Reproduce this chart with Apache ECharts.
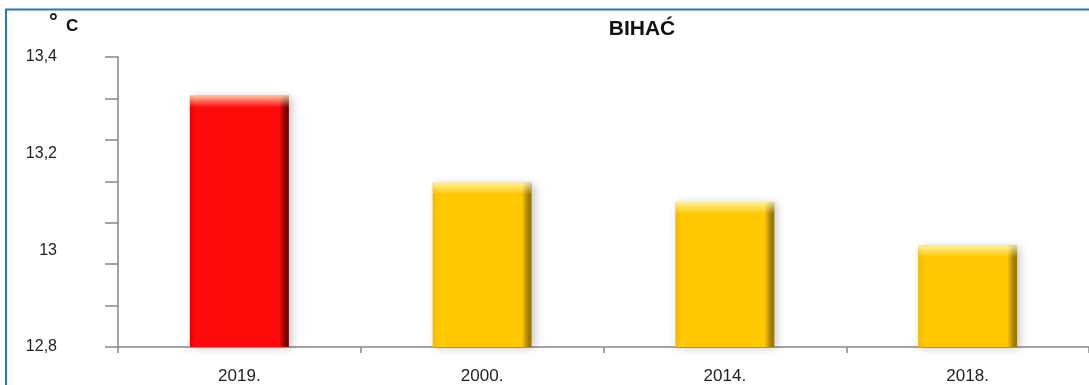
<!DOCTYPE html>
<html>
<head>
<meta charset="utf-8">
<script src="https://cdn.jsdelivr.net/npm/echarts@6/dist/echarts.min.js"></script>
<style>
html,body{margin:0;padding:0;background:#fff;}
#c{width:1089px;height:385px;}
</style>
</head>
<body>
<div id="c"></div>
<script>
// ---- data ----
var title = 'BIHAĆ';
var unitLabel = 'C';
var categories = ['2019.', '2000.', '2014.', '2018.'];
var temps = [13.32, 13.14, 13.10, 13.01];
var barKind = ['red', 'gold', 'gold', 'gold'];
var yMin = 12.8, yMax = 13.4, yStep = 0.2;

var palette = {
  red:  {l: '#E80000', m: '#FF0A0A', r: '#7A0000'},
  gold: {l: '#F2B800', m: '#FFC800', r: '#9C7A00'}
};
function hGrad(k) {
  var p = palette[k];
  return new echarts.graphic.LinearGradient(0, 0, 1, 0, [
    {offset: 0, color: p.l}, {offset: 0.06, color: p.m},
    {offset: 0.9, color: p.m}, {offset: 0.97, color: p.r}, {offset: 1, color: p.r}
  ]);
}
var pxPerUnit = 290 / (yMax - yMin);
function vGrad(v) {
  var h = (v - yMin) * pxPerUnit;
  var f = Math.min(0.5, 12 / h);
  return new echarts.graphic.LinearGradient(0, 0, 0, 1, [
    {offset: 0, color: 'rgba(255,255,200,0.75)'},
    {offset: f * 0.5, color: 'rgba(255,255,220,0.35)'},
    {offset: f, color: 'rgba(255,255,255,0)'},
    {offset: 1, color: 'rgba(255,255,255,0)'}
  ]);
}

var chart = echarts.init(document.getElementById('c'), null, {renderer: 'canvas'});
var font = "'Liberation Sans', Arial, sans-serif";
chart.setOption({
  animation: false,
  backgroundColor: '#fff',
  grid: {left: 118, top: 57, width: 976, bottom: 38},
  graphic: [
    {type: 'rect', shape: {x: 6, y: 9.5, width: 1200, height: 500},
     style: {fill: 'none', stroke: '#2E75B6', lineWidth: 2}, z: 100},
    {type: 'text', left: 49, top: 12, style: {text: '°', font: "bold 22px " + font, fill: '#111'}},
    {type: 'text', left: 66, top: 18, style: {text: unitLabel, font: "bold 17px " + font, fill: '#111'}}
  ],
  title: {
    text: title, left: 637, top: 14, textAlign: 'center',
    textStyle: {fontFamily: font, fontSize: 21, fontWeight: 'bold', color: '#111'}
  },
  xAxis: {
    type: 'category', data: categories,
    axisLine: {lineStyle: {color: '#868686', width: 1.5}},
    axisTick: {show: true, alignWithLabel: false, length: 6, lineStyle: {color: '#868686', width: 1.5}},
    axisLabel: {margin: 21, fontFamily: font, fontSize: 17, color: '#222'}
  },
  yAxis: [
    {
      type: 'value', min: yMin, max: yMax, interval: yStep,
      axisLine: {show: true, lineStyle: {color: '#868686', width: 1.5}},
      axisTick: {show: false},
      splitLine: {show: false},
      axisLabel: {
        margin: 61, fontFamily: font, fontSize: 16, color: '#222',
        formatter: function (v) { return String(+v.toFixed(1)).replace('.', ','); }
      }
    },
    {
      type: 'value', min: 0, max: 7, interval: 1, position: 'left',
      axisLine: {show: false},
      axisTick: {show: true, length: 13, lineStyle: {color: '#868686', width: 1.5}},
      axisLabel: {show: false},
      splitLine: {show: false}
    }
  ],
  series: [
    {
      type: 'bar', barWidth: 99, yAxisIndex: 0,
      data: temps.map(function (v, i) {
        return {value: v, itemStyle: {color: hGrad(barKind[i]),
          shadowBlur: 8, shadowColor: 'rgba(0,0,0,0.22)', shadowOffsetX: 3, shadowOffsetY: 1}};
      })
    },
    {
      type: 'bar', barWidth: 99, barGap: '-100%', yAxisIndex: 0, silent: true,
      data: temps.map(function (v) { return {value: v, itemStyle: {color: vGrad(v)}}; })
    }
  ]
});
</script>
</body>
</html>
